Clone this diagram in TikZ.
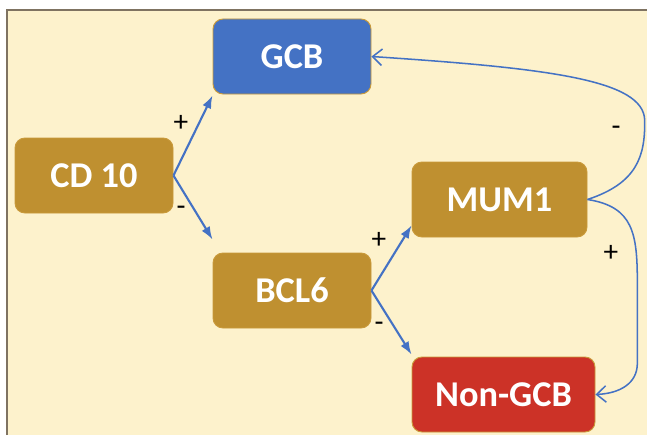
\documentclass[tikz,border=0pt]{standalone}
\usepackage{fontspec}
\setmainfont{Carlito}
\usetikzlibrary{arrows.meta}
\definecolor{bgcream}{HTML}{FDF2CC}
\definecolor{framegray}{HTML}{7F7361}
\definecolor{boxgold}{HTML}{BF9030}
\definecolor{edgegold}{HTML}{C99A3A}
\definecolor{boxblue}{HTML}{4472C4}
\definecolor{boxred}{HTML}{CC3227}
\definecolor{linkblue}{HTML}{4472C4}
\begin{document}
\begin{tikzpicture}[
  cell/.style={draw=edgegold, line width=0.8pt, rounded corners=0.3cm,
    minimum height=2.25cm, text=white,
    font=\fontsize{31}{36}\selectfont\bfseries},
  sign/.style={font=\fontsize{25}{28}\selectfont},
  push/.style={draw=linkblue, line width=1.8pt, -{Latex[length=11pt,width=8pt]}},
  loop/.style={draw=linkblue, line width=1.3pt, -{Straight Barb[length=8pt,width=14pt]}}]
  \useasboundingbox (0,0) rectangle (19.41,-13.05);
  \fill[bgcream] (0.21,-0.30) rectangle (19.41,-13.05);
  \draw[framegray, line width=1.2pt] (0.21,-13.05) -- (0.21,-0.30) -- (19.41,-0.30);
  %%
  \node[cell, fill=boxblue, minimum width=4.74cm] (gcb) at (8.76,-1.695) {GCB};
  \node[cell, fill=boxgold, minimum width=4.74cm] (cd) at (2.82,-5.265) {CD 10};
  \node[cell, fill=boxgold, minimum width=4.74cm] (bcl) at (8.76,-8.715) {BCL6};
  \node[cell, fill=boxgold, minimum width=5.25cm] (mum) at (14.985,-5.985) {MUM1};
  \node[cell, fill=boxred, minimum width=5.49cm] (non) at (15.105,-11.835) {Non-GCB};
  %%
  \draw[push] (cd.east) -- ([yshift=-0.03cm]gcb.south west);
  \draw[push] (cd.east) -- ([yshift=0.39cm]bcl.north west);
  \draw[push] (bcl.east) -- ([yshift=0.36cm]mum.south west);
  \draw[push] (bcl.east) -- ([yshift=0.06cm]non.north west);
  %%
  \draw[loop] (mum.east) .. controls (19.1,-5.5) and (19.36,-4.7) .. (19.34,-3.6)
    .. controls (19.3,-2.4) and (16.5,-2.05) .. (gcb.east);
  \draw[loop] (mum.east) .. controls (19.0,-6.2) and (19.12,-7.0) .. (19.12,-8.5)
    -- (19.12,-10.9) .. controls (19.12,-11.5) and (18.6,-11.8) .. (non.east);
  %%
  \node[sign] (p1) at (5.43,-3.69) {+};
  \node[sign] (m1) at (5.43,-6.33) {-};
  \node[sign] (p2) at (11.37,-7.2) {+};
  \node[sign] (m2) at (11.37,-9.81) {-};
  \node[sign] (m3) at (18.48,-3.93) {-};
  \node[sign] (p3) at (18.33,-7.59) {+};
\end{tikzpicture}
\end{document}
